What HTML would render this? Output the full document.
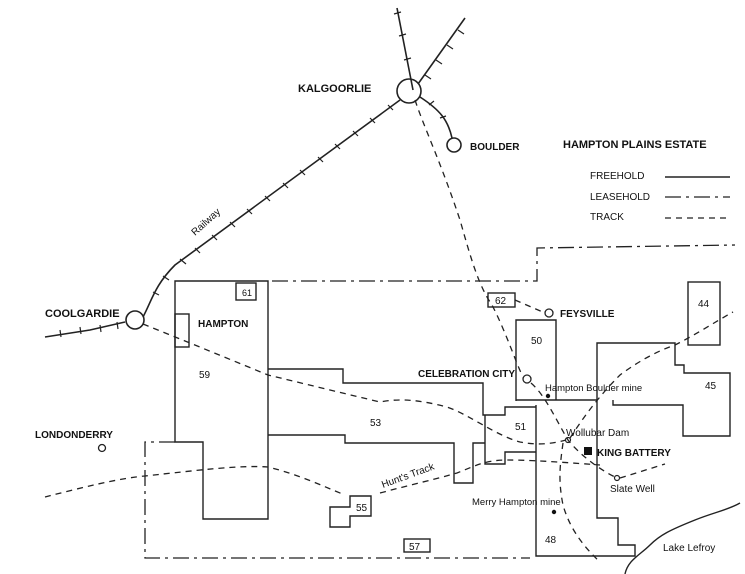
<!DOCTYPE html>
<html><head><meta charset="utf-8"><style>
html,body{margin:0;padding:0;background:#fff}
svg{display:block}
text{font-family:"Liberation Sans",Arial,sans-serif;fill:#111}
.b{font-weight:bold;font-size:11px}
.s{font-size:10px}
</style></head><body>
<svg width="745" height="574" viewBox="0 0 745 574" xmlns="http://www.w3.org/2000/svg">
<g fill="none" stroke="#222" stroke-width="1.6">
<!-- railway -->
<path d="M45,337 L90,330 L125,322"/>
<path d="M143,317 C152,300 155,285 175,265 L400,100"/>
<path d="M397,8 C403,40 409,70 413,90"/>
<path d="M465,18 L418,84"/>
<path d="M420,97 C440,110 448,120 452,138"/>
<circle cx="135" cy="320" r="9"/>
<circle cx="409" cy="91" r="12"/>
<circle cx="454" cy="145" r="7"/>
<circle cx="102" cy="448" r="3.5" stroke-width="1.3"/>
<circle cx="527" cy="379" r="4" stroke-width="1.3"/>
<circle cx="549" cy="313" r="4" stroke-width="1.3"/>
<circle cx="568" cy="440" r="2.5" stroke-width="1.2"/>
<circle cx="617" cy="478" r="2.5" stroke-width="1.2"/>
</g>
<g stroke="#222" stroke-width="1.2">
<path d="M60,330 l1,7 M80,327 l1,7 M100,325 l1,7 M117,322 l1,7 M153,292 l6,3 M163,276 l6,4 M180,259 l6,5 M195,248 l5,5 M212,235 l5,5 M230,222 l5,5 M247,209 l5,5 M265,196 l5,5 M283,183 l5,5 M300,170 l5,5 M318,157 l5,5 M335,144 l5,5 M353,131 l5,5 M370,118 l5,5 M388,105 l5,5 M394,14 l7,-2 M399,36 l7,-2 M404,60 l7,-2 M458,30 l6,4 M447,45 l6,4 M436,60 l6,4 M425,75 l6,4 M429,105 l5,-4 M440,118 l6,-2"/>
</g>
<!-- freehold -->
<g fill="none" stroke="#222" stroke-width="1.4">
<path d="M175,442 L175,281 L268,281 L268,519 L203,519 L203,442 Z"/>
<rect x="175" y="314" width="14" height="33"/>
<rect x="236" y="283" width="20" height="17"/>
<path d="M268,369 L343,369 L343,383 L483,383 L483,415 L505,415 L505,407 L536,407"/>
<path d="M268,435 L345,435 L345,443 L454,443 L454,483 L473,483 L473,443 L485,443"/>
<path d="M485,415 L485,464 L505,464 L505,452 L536,452"/>
<path d="M516,401 L516,320 L556,320 L556,400"/>
<path d="M516,400 L597,400"/>
<path d="M536,405 L536,556 L635,556 L635,545 L618,545 L618,518 L597,518 L597,343 L675,343 L675,365 L684,365 L684,373 L730,373 L730,436 L683,436 L683,405 L613,405 L613,400"/>
<rect x="688" y="282" width="32" height="63"/>
<rect x="488" y="293" width="27" height="14"/>
<path d="M350,496 L371,496 L371,516 L350,516 L350,527 L330,527 L330,507 L350,507 Z"/>
<rect x="404" y="539" width="26" height="13"/>
<path d="M625,574 C628,560 640,555 650,545 C660,535 670,530 695,520 C715,512 728,510 740,503"/>
<line x1="665" y1="177" x2="730" y2="177"/>
</g>
<!-- leasehold -->
<g fill="none" stroke="#222" stroke-width="1.3" stroke-dasharray="16,5,3,5">
<path d="M272,281 L537,281 L537,248 L735,245"/>
<path d="M175,442 L145,442 L145,558 L530,558"/>
<line x1="665" y1="197" x2="730" y2="197"/>
</g>
<!-- tracks -->
<g fill="none" stroke="#222" stroke-width="1.3" stroke-dasharray="6,5">
<path d="M415,100 C425,130 440,160 460,220 C470,255 478,285 492,305 C505,330 515,360 522,375"/>
<path d="M531,383 C545,395 555,418 568,440 C580,455 600,470 617,478"/>
<path d="M143,324 L190,343 L268,375 L330,390 L380,402 C400,398 420,400 447,407 C470,415 495,435 520,442 C540,446 555,443 566,440"/>
<path d="M45,497 C80,488 120,478 145,476 C200,470 240,465 268,467 C300,475 320,485 345,495"/>
<path d="M380,493 C410,485 440,478 457,473 C475,466 485,460 507,460 C530,460 560,462 600,465"/>
<path d="M570,438 C585,415 600,395 620,375 C640,360 660,350 675,345 C695,335 715,322 733,312"/>
<path d="M563,443 C560,465 558,480 563,505 C570,530 585,548 600,562"/>
<path d="M620,478 L665,464"/>
<path d="M515,300 L545,313"/>
<line x1="665" y1="218" x2="730" y2="218"/>
</g>
<rect x="584" y="447" width="8" height="8" fill="#111"/>
<circle cx="548" cy="396" r="2.2" fill="#111"/>
<circle cx="554" cy="512" r="2.2" fill="#111"/>
<!-- labels -->
<text x="298" y="92" class="b">KALGOORLIE</text>
<text x="470" y="150" class="b" style="font-size:10px">BOULDER</text>
<text x="563" y="148" class="b">HAMPTON  PLAINS  ESTATE</text>
<text x="590" y="179" class="b" style="font-size:10px;font-weight:normal">FREEHOLD</text>
<text x="590" y="200" class="s">LEASEHOLD</text>
<text x="590" y="220" class="s">TRACK</text>
<text x="45" y="317" class="b">COOLGARDIE</text>
<text x="198" y="327" class="b" style="font-size:10px">HAMPTON</text>
<text x="242" y="296" style="font-size:9px">61</text>
<text x="199" y="378" class="s">59</text>
<text x="370" y="426" class="s">53</text>
<text x="35" y="438" class="b" style="font-size:10px">LONDONDERRY</text>
<text x="495" y="304" style="font-size:10px">62</text>
<text x="560" y="317" class="b" style="font-size:10px">FEYSVILLE</text>
<text x="531" y="344" class="s">50</text>
<text x="698" y="307" class="s">44</text>
<text x="418" y="377" class="b" style="font-size:10px">CELEBRATION CITY</text>
<text x="545" y="391" style="font-size:9.5px">Hampton Boulder mine</text>
<text x="705" y="389" class="s">45</text>
<text x="515" y="430" class="s">51</text>
<text x="566" y="436" style="font-size:10px">Wollubar Dam</text>
<text x="597" y="456" class="b" style="font-size:10px">KING BATTERY</text>
<text x="610" y="492" style="font-size:10px">Slate Well</text>
<text x="472" y="505" style="font-size:9.5px">Merry Hampton mine</text>
<text x="545" y="543" class="s">48</text>
<text x="356" y="511" style="font-size:10px">55</text>
<text x="409" y="550" style="font-size:10px">57</text>
<text x="663" y="551" style="font-size:10px">Lake Lefroy</text>
<text x="0" y="0" style="font-size:10px" transform="translate(383,488) rotate(-20)">Hunt's Track</text>
<text x="0" y="0" style="font-size:10px" transform="translate(195,236) rotate(-42)">Railway</text>
</svg>
</body></html>
